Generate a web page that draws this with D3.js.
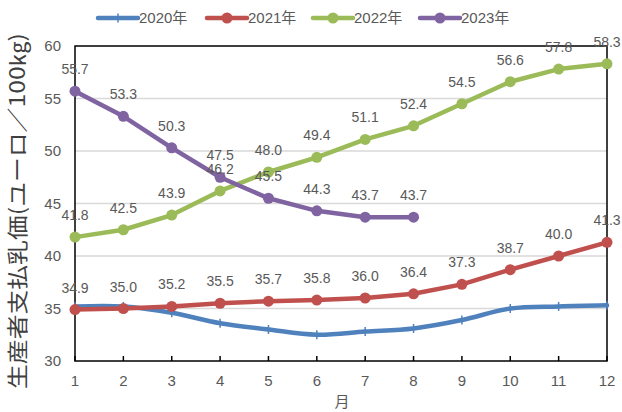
<!DOCTYPE html>
<html><head><meta charset="utf-8">
<script src="https://cdn.jsdelivr.net/npm/d3@7"></script>
<style>
html,body{margin:0;padding:0;background:#fff;}
svg{display:block;}
text{font-family:"Liberation Sans",Arial,sans-serif;fill:#595959;}
</style></head>
<body>
<svg id="chart" width="622" height="412"></svg>
<script>
const months = [1,2,3,4,5,6,7,8,9,10,11,12];
const seriesNames = ["2020年","2021年","2022年","2023年"];
const v2020 = [35.2,35.2,34.6,33.6,33.0,32.5,32.8,33.1,33.9,35.0,35.2,35.3];
const v2021 = [34.9,35.0,35.2,35.5,35.7,35.8,36.0,36.4,37.3,38.7,40.0,41.3];
const v2022 = [41.8,42.5,43.9,46.2,48.0,49.4,51.1,52.4,54.5,56.6,57.8,58.3];
const v2023 = [55.7,53.3,50.3,47.5,45.5,44.3,43.7,43.7];
const yTicks = [30,35,40,45,50,55,60];
const yTitle = "生産者支払乳価(ユーロ／100㎏)";
const xTitle = "月";

const colors = ["#4F81BD","#C0504D","#9BBB59","#8064A2"];
const series = [
  {name:seriesNames[0], values:v2020, color:colors[0], marker:"plus", smooth:true, labels:false},
  {name:seriesNames[1], values:v2021, color:colors[1], marker:"circle", smooth:false, labels:true},
  {name:seriesNames[2], values:v2022, color:colors[2], marker:"circle", smooth:false, labels:true},
  {name:seriesNames[3], values:v2023, color:colors[3], marker:"circle", smooth:false, labels:true}
];

const svg = d3.select("#chart");
const x = d3.scaleLinear().domain([1,12]).range([75,607]);
const y = d3.scaleLinear().domain([30,60]).range([361,46]);

// gridlines
svg.append("g").selectAll("line").data(yTicks.filter(t=>t>30 && t<60)).join("line")
  .attr("x1",x(1)).attr("x2",x(12)).attr("y1",d=>y(d)).attr("y2",d=>y(d))
  .attr("stroke","#d9d9d9").attr("stroke-width",1.5);

// plot border
svg.append("rect").attr("x",x(1)).attr("y",y(60)).attr("width",x(12)-x(1)).attr("height",y(30)-y(60))
  .attr("fill","none").attr("stroke","#000").attr("stroke-width",1.5);

// x axis ticks (inside)
svg.append("g").selectAll("line").data(months).join("line")
  .attr("x1",d=>x(d)).attr("x2",d=>x(d)).attr("y1",y(30)).attr("y2",y(30)-5)
  .attr("stroke","#000").attr("stroke-width",1.5);

// axis labels
svg.append("g").selectAll("text").data(yTicks).join("text")
  .attr("x",61).attr("y",d=>y(d)).attr("dy","0.35em").attr("text-anchor","end")
  .style("font-size","15px").text(d=>d);
svg.append("g").selectAll("text").data(months).join("text")
  .attr("x",d=>x(d)).attr("y",381).attr("dy","0.35em").attr("text-anchor","middle")
  .style("font-size","15px").text(d=>d);

svg.append("text").attr("x",342).attr("y",402).attr("dy","0.35em").attr("text-anchor","middle")
  .style("font-size","15px").style("font-family","'Noto Sans CJK JP',sans-serif").text(xTitle);

svg.append("text").attr("transform","translate(17,211) rotate(-90)")
  .attr("text-anchor","middle").attr("dy","0.36em")
  .attr("textLength",356).attr("lengthAdjust","spacingAndGlyphs")
  .style("font-size","21px").style("font-family","'Noto Sans CJK JP',sans-serif").style("fill","#404040")
  .text(yTitle);

// lines
series.forEach(s=>{
  const line = d3.line().x((d,i)=>x(months[i])).y(d=>y(d))
    .curve(s.smooth ? d3.curveCatmullRom.alpha(0.5) : d3.curveLinear);
  const g = svg.append("g");
  g.append("path").datum(s.values).attr("d",line).attr("fill","none")
    .attr("stroke",s.color).attr("stroke-width",4.5).attr("stroke-linejoin","round").attr("stroke-linecap","round");
  if(s.marker==="circle"){
    g.selectAll("circle").data(s.values).join("circle")
      .attr("cx",(d,i)=>x(months[i])).attr("cy",d=>y(d)).attr("r",5.5).attr("fill",s.color);
  } else {
    g.selectAll("line").data(s.values).join("line")
      .attr("x1",(d,i)=>x(months[i])).attr("x2",(d,i)=>x(months[i]))
      .attr("y1",d=>y(d)-4.5).attr("y2",d=>y(d)+4.5).attr("stroke",s.color).attr("stroke-width",1.5);
  }
});

// data labels
series.filter(s=>s.labels).forEach(s=>{
  svg.append("g").selectAll("text").data(s.values).join("text")
    .attr("x",(d,i)=>x(months[i])).attr("y",d=>y(d)-17).attr("text-anchor","middle")
    .style("font-size","14px").text(d=>d.toFixed(1));
});

// legend
const legX = [98,207,313,420];
const leg = svg.append("g");
series.forEach((s,i)=>{
  const lx = legX[i], ly = 18;
  leg.append("line").attr("x1",lx).attr("x2",lx+40).attr("y1",ly).attr("y2",ly)
    .attr("stroke",s.color).attr("stroke-width",4.5).attr("stroke-linecap","round");
  if(s.marker==="circle"){
    leg.append("circle").attr("cx",lx+20).attr("cy",ly).attr("r",5.5).attr("fill",s.color);
  } else {
    leg.append("line").attr("x1",lx+20).attr("x2",lx+20).attr("y1",ly-4.5).attr("y2",ly+4.5)
      .attr("stroke",s.color).attr("stroke-width",1.5);
  }
  leg.append("text").attr("x",lx+41).attr("y",ly).attr("dy","0.36em")
    .style("font-size","15px").style("font-family","'Liberation Sans','Noto Sans CJK JP',sans-serif").text(s.name);
});
</script>
</body></html>
